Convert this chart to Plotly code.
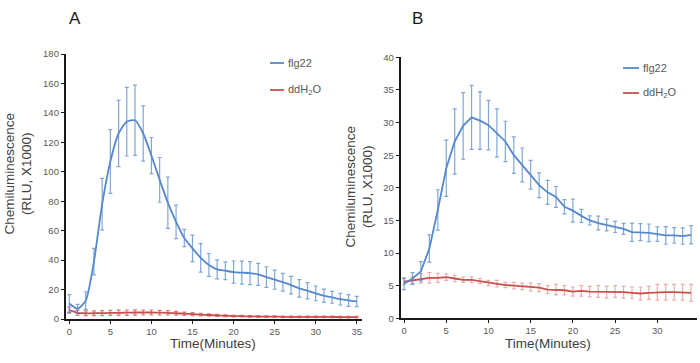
import plotly.graph_objects as go

# ---------------- data ----------------
time_a = list(range(0, 36))
flg22_a = [10.5, 7, 12.5, 39, 78, 107, 126, 134, 135, 126, 111, 94.5, 79, 66, 55, 48,
           41.5, 36.7, 33.7, 32.8, 31.9, 31.5, 31.2, 30.3, 28.5, 26.7, 25.0, 23.0, 20.8,
           19.2, 17.4, 15.8, 14.7, 13.5, 12.6, 11.9]
flg22_a_err = [6, 3, 6, 9, 17.5, 21.7, 22.5, 23.3, 23.8, 18.8, 12.3, 15.2, 17.4, 11.4, 5.9, 9,
               9.7, 7.8, 6.4, 6, 7.5, 7.8, 7.8, 7.5, 7, 6.5, 6, 6, 6, 5.5, 5, 4.5, 4, 4, 4, 3.5]
water_a = [6, 4.2, 3.9, 3.9, 4.0, 4.1, 4.2, 4.3, 4.4, 4.4, 4.4, 4.3, 4.2, 3.9, 3.6, 3.3,
           3.0, 2.7, 2.4, 2.2, 2.0, 1.9, 1.8, 1.7, 1.6, 1.6, 1.5, 1.5, 1.5, 1.4, 1.4, 1.4,
           1.4, 1.3, 1.3, 1.3]
water_a_err = [2, 1.6, 1.6, 1.6, 1.7, 1.7, 1.8, 1.8, 1.8, 1.7, 1.7, 1.6, 1.5, 1.3, 1.1, 1.0,
               0.9, 0.8, 0.7, 0.6, 0.5, 0.5, 0.5, 0.5, 0.5, 0.5, 0.5, 0.5, 0.5, 0.5, 0.5,
               0.5, 0.5, 0.5, 0.5, 0.5]

time_b = list(range(0, 35))
flg22_b = [5.3, 6.1, 7.2, 10.7, 16.6, 23.0, 27.1, 29.5, 30.8, 30.3, 29.6, 28.4, 27.1, 25.0,
           23.5, 22.0, 20.4, 19.3, 18.6, 17.1, 16.5, 15.7, 15.0, 14.6, 14.3, 14.0, 13.7,
           13.2, 13.2, 13.1, 12.9, 12.7, 12.7, 12.6, 12.8]
flg22_b_err = [0.9, 0.9, 1.5, 2.1, 3.1, 4.3, 5.0, 5.1, 4.9, 4.4, 3.8, 3.7, 3.1, 2.8, 2.6, 2.2,
               1.9, 1.85, 1.6, 1.1, 1.75, 1.0, 0.7, 1.05, 0.9, 0.85, 0.85, 1.4, 1.3, 1.35,
               1.1, 1.35, 1.2, 1.25, 1.4]
water_b = [5.6, 5.8, 6.1, 6.2, 6.2, 6.3, 6.1, 5.9, 5.9, 5.7, 5.4, 5.3, 5.1, 5.0, 4.9, 4.8,
           4.7, 4.4, 4.4, 4.3, 4.1, 4.2, 4.1, 4.1, 4.0, 4.1, 4.0, 3.9, 3.8, 3.9, 4.0, 4.0,
           4.0, 4.0, 3.9]
water_b_err = [0.5, 0.5, 0.7, 0.8, 0.7, 0.5, 0.5, 0.4, 0.45, 0.4, 0.4, 0.5, 0.4, 0.5, 0.5,
               0.6, 0.6, 0.6, 0.8, 0.7, 0.7, 0.8, 0.8, 0.9, 0.9, 0.9, 0.9, 0.9, 1.0, 1.0,
               1.2, 1.2, 1.2, 1.2, 1.3]

x_ticks_a = [0, 5, 10, 15, 20, 25, 30, 35]
x_ticks_b = [0, 5, 10, 15, 20, 25, 30]
y_ticks_a = [0, 20, 40, 60, 80, 100, 120, 140, 160, 180]
y_ticks_b = [0, 5, 10, 15, 20, 25, 30, 35, 40]
series_names = ["flg22", "ddH<sub>2</sub>O"]

# ---------------- style ----------------
W, H = 700, 363
BLUE = "#5588CC"
BLUE_ERR = "rgba(85,136,204,0.75)"
RED = "#C9504D"
RED_ERR_A = "rgba(201,80,77,0.75)"
RED_ERR_B = "rgba(201,80,77,0.45)"
TXT = "#404040"
TICK = "#595959"
FONT = "Liberation Sans, Arial, sans-serif"


def px(x):
    return x / W


def py(y):
    return 1 - y / H


fig = go.Figure()


def add_series(x, y, err, color, ecolor, shape, xa, ya):
    fig.add_trace(go.Scatter(
        x=x, y=y, mode="lines", xaxis=xa, yaxis=ya, showlegend=False,
        line=dict(color=color, width=1.8, shape=shape, smoothing=0.6),
        error_y=dict(type="data", array=err, visible=True, color=ecolor,
                     thickness=1.2, width=2),
    ))


add_series(time_a, water_a, water_a_err, RED, RED_ERR_A, "spline", "x", "y")
add_series(time_a, flg22_a, flg22_a_err, BLUE, BLUE_ERR, "spline", "x", "y")
add_series(time_b, water_b, water_b_err, RED, RED_ERR_B, "linear", "x2", "y2")
add_series(time_b, flg22_b, flg22_b_err, BLUE, BLUE_ERR, "linear", "x2", "y2")

axis_common = dict(showgrid=False, zeroline=False, showline=True, linecolor="#1a1a1a",
                   linewidth=1.5, ticks="outside", ticklen=3, tickwidth=1.2,
                   tickcolor="#1a1a1a", automargin=False,
                   tickfont=dict(family=FONT, size=9.5, color=TICK))

fig.update_layout(
    width=W, height=H,
    margin=dict(l=0, r=0, t=0, b=0, autoexpand=False),
    paper_bgcolor="white", plot_bgcolor="white",
    font=dict(family=FONT),
    xaxis=dict(domain=[px(65.6), px(361.7)], range=[-0.45, 35.6], tickvals=x_ticks_a,
               anchor="y", **axis_common),
    yaxis=dict(domain=[py(319), py(54)], range=[0, 180], tickvals=y_ticks_a,
               anchor="x", **axis_common),
    xaxis2=dict(domain=[px(400.5), px(697)], range=[-0.42, 34.7], tickvals=x_ticks_b,
                anchor="y2", **axis_common),
    yaxis2=dict(domain=[py(318.3), py(57.3)], range=[0, 40], tickvals=y_ticks_b,
                anchor="x2", **axis_common),
)

annotations = []


def text(x, y, s, size, color=TXT, angle=0, xanchor="center"):
    annotations.append(dict(x=px(x), y=py(y), xref="paper", yref="paper", text=s,
                            showarrow=False, textangle=angle, xanchor=xanchor,
                            yanchor="middle",
                            font=dict(family=FONT, size=size, color=color)))


# panel letters
text(75, 18, "A", 17, "#1a1a1a")
text(417, 18, "B", 17, "#1a1a1a")
# axis titles
text(213, 343, "Time(Minutes)", 13.5)
text(548, 343, "Time(Minutes)", 13.5)
text(18.5, 174, "Chemiluminescence<br>(RLU, X1000)", 13.5, angle=-90)
text(358.5, 187, "Chemiluminescence<br>(RLU, X1000)", 13.5, angle=-90)

# legends
shapes = []
legend_specs = [
    (270, 284, 286, [63, 90]),
    (623, 639, 641, [68, 93]),
]
colors = [BLUE, RED]
for x0, x1, xt, ys in legend_specs:
    for name, col, yy in zip(series_names, colors, ys):
        shapes.append(dict(type="line", xref="paper", yref="paper",
                           x0=px(x0), x1=px(x1), y0=py(yy), y1=py(yy),
                           line=dict(color=col, width=1.8)))
        text(xt, yy, name, 11, TICK, xanchor="left")

fig.update_layout(annotations=annotations, shapes=shapes)

fig.write_html(
    "out.html",
    config={"displayModeBar": False},
    post_script="document.body.style.margin='0';document.body.style.overflow='hidden';",
)
